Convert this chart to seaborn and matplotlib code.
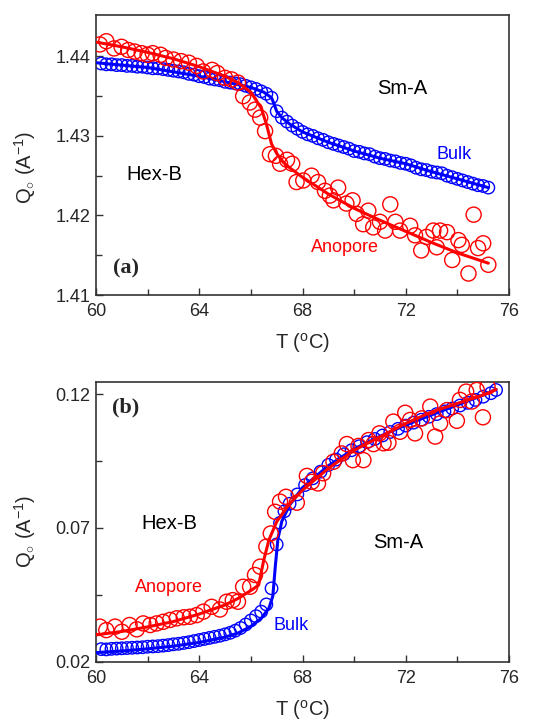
import matplotlib
matplotlib.use("Agg")
import matplotlib.pyplot as plt
import seaborn as sns
from matplotlib.ticker import MultipleLocator, FixedLocator, FormatStrFormatter

# ---------------- data: panel (a) ----------------
bulk_a_T = [60.2, 60.4, 60.6, 60.8, 61.0, 61.2, 61.4, 61.6, 61.8, 62.0,
            62.2, 62.4, 62.6, 62.8, 63.0, 63.2, 63.4, 63.6, 63.8, 64.0,
            64.2, 64.4, 64.6, 64.8, 65.0, 65.2, 65.4, 65.6, 65.8, 66.0,
            66.2, 66.4, 66.6, 66.8, 67.0, 67.2, 67.4, 67.6, 67.8, 68.0,
            68.2, 68.4, 68.6, 68.8, 69.0, 69.2, 69.4, 69.6, 69.8, 70.0,
            70.2, 70.4, 70.6, 70.8, 71.0, 71.2, 71.4, 71.6, 71.8, 72.0,
            72.2, 72.4, 72.6, 72.8, 73.0, 73.2, 73.4, 73.6, 73.8, 74.0,
            74.2, 74.4, 74.6, 74.8, 75.0, 75.2]
bulk_a_Q = [1.4391, 1.4390, 1.4390, 1.4389, 1.4389, 1.4388, 1.4388, 1.4387, 1.4387, 1.4386,
            1.4385, 1.4385, 1.4384, 1.4383, 1.4382, 1.4381, 1.4380, 1.4378, 1.4377, 1.4375,
            1.4374, 1.4372, 1.4371, 1.4370, 1.4368, 1.4367, 1.4366, 1.4365, 1.4363, 1.4361,
            1.4359, 1.4356, 1.4353, 1.4348, 1.4331, 1.4323, 1.4318, 1.4313, 1.4309, 1.4305,
            1.4302, 1.4300, 1.4297, 1.4295, 1.4292, 1.4290, 1.4288, 1.4286, 1.4284, 1.4281,
            1.4280, 1.4278, 1.4277, 1.4274, 1.4272, 1.4271, 1.4269, 1.4268, 1.4266, 1.4265,
            1.4263, 1.4260, 1.4258, 1.4257, 1.4255, 1.4254, 1.4253, 1.4250, 1.4248, 1.4246,
            1.4244, 1.4242, 1.4240, 1.4238, 1.4237, 1.4235]
bulk_a_fit_T = [60.0, 62.0, 64.0, 65.0, 66.0, 66.5, 66.8, 66.9, 67.0, 67.2, 67.5, 68.0,
                69.0, 70.0, 71.0, 72.0, 73.0, 74.0, 75.2]
bulk_a_fit_Q = [1.4392, 1.4386, 1.4375, 1.4368, 1.4361, 1.4355, 1.4348, 1.4340, 1.4331,
                1.4323, 1.4315, 1.4305, 1.4292, 1.4281, 1.4272, 1.4265, 1.4255, 1.4246, 1.4235]

anop_a_T = [60.15, 60.4, 60.7, 60.99, 61.25, 61.5, 61.77, 62.0, 62.2, 62.5,
            62.7, 63.0, 63.3, 63.6, 63.9, 64.15, 64.5, 64.7, 65.0, 65.25,
            65.5, 65.7, 65.96, 66.16, 66.36, 66.55, 66.74, 66.97, 67.13, 67.4,
            67.6, 67.77, 68.03, 68.35, 68.6, 68.87, 69.06, 69.2, 69.38, 69.7,
            69.94, 70.1, 70.35, 70.55, 70.74, 71.0, 71.2, 71.4, 71.6, 71.78,
            72.17, 72.36, 72.6, 72.8, 73.07, 73.2, 73.33, 73.6, 73.8, 74.04,
            74.17, 74.43, 74.63, 74.8, 75.0, 75.2]
anop_a_Q = [1.4415, 1.4419, 1.4410, 1.4412, 1.4408, 1.4406, 1.4404, 1.4402, 1.4404, 1.4402,
            1.4398, 1.4396, 1.4394, 1.4392, 1.4388, 1.4381, 1.4383, 1.4379, 1.4373, 1.4371,
            1.4367, 1.4350, 1.4342, 1.4333, 1.4323, 1.4306, 1.4277, 1.4275, 1.4265, 1.4270,
            1.4265, 1.4242, 1.4244, 1.4250, 1.4242, 1.4231, 1.4225, 1.4219, 1.4235, 1.4215,
            1.4219, 1.4202, 1.4189, 1.4206, 1.4185, 1.4192, 1.4181, 1.4214, 1.4192, 1.4181,
            1.4187, 1.4175, 1.4156, 1.4173, 1.4181, 1.4160, 1.4181, 1.4179, 1.4144, 1.4169,
            1.4163, 1.4127, 1.4201, 1.4159, 1.4165, 1.4138]
anop_a_fit_T = [60.0, 61.0, 62.0, 63.0, 64.0, 65.0, 65.5, 66.0, 66.2, 66.4, 66.6, 66.8,
                67.0, 67.25, 67.5, 68.0, 69.0, 70.0, 71.0, 72.0, 73.0, 74.0, 75.2]
anop_a_fit_Q = [1.4418, 1.4412, 1.4405, 1.4397, 1.4387, 1.4375, 1.4367, 1.4355, 1.4345,
                1.4335, 1.4315, 1.4290, 1.4278, 1.4267, 1.4260, 1.4248, 1.4227, 1.4209,
                1.4194, 1.4180, 1.4166, 1.4153, 1.4140]

# ---------------- data: panel (b) ----------------
bulk_b_T = [60.2, 60.4, 60.6, 60.8, 61.0, 61.2, 61.4, 61.6, 61.8, 62.0,
            62.2, 62.4, 62.6, 62.8, 63.0, 63.2, 63.4, 63.6, 63.8, 64.0,
            64.2, 64.4, 64.6, 64.8, 65.0, 65.2, 65.4, 65.6, 65.8, 66.0,
            66.2, 66.4, 66.6, 66.8, 67.0, 67.13, 67.3, 67.5, 67.8, 68.1,
            68.4, 68.7, 69.0, 69.3, 69.6, 69.9, 70.2, 70.5, 70.8, 71.1,
            71.4, 71.7, 72.0, 72.3, 72.6, 72.9, 73.2, 73.5, 73.8, 74.1,
            74.4, 74.7, 75.0, 75.3, 75.5]
bulk_b_Q = [0.0247, 0.0246, 0.0248, 0.0249, 0.0250, 0.0251, 0.0252, 0.0253, 0.0254, 0.0256,
            0.0257, 0.0258, 0.0260, 0.0262, 0.0265, 0.0267, 0.0270, 0.0273, 0.0277, 0.0281,
            0.0285, 0.0289, 0.0293, 0.0297, 0.0302, 0.0308, 0.0316, 0.0326, 0.0339, 0.0354,
            0.0370, 0.0387, 0.0414, 0.0474, 0.0638, 0.0719, 0.0762, 0.0790, 0.0825, 0.0860,
            0.0885, 0.0910, 0.0935, 0.0955, 0.0975, 0.0990, 0.1005, 0.1020, 0.1032, 0.1045,
            0.1058, 0.1070, 0.1082, 0.1093, 0.1104, 0.1115, 0.1125, 0.1135, 0.1146, 0.1157,
            0.1167, 0.1178, 0.1190, 0.1203, 0.1215]
bulk_b_fit_T = [60.0, 61.0, 62.0, 63.0, 64.0, 65.0, 65.5, 66.0, 66.4, 66.7, 66.85, 66.95,
                67.05, 67.2, 67.5, 68.0, 69.0, 70.0, 71.0, 72.0, 73.0, 74.0, 75.0, 75.5]
bulk_b_fit_Q = [0.0234, 0.0240, 0.0248, 0.0258, 0.0272, 0.0292, 0.0307, 0.0332, 0.0362,
                0.0400, 0.0445, 0.0560, 0.0660, 0.0725, 0.0785, 0.0850, 0.0932, 0.0995,
                0.1042, 0.1084, 0.1122, 0.1159, 0.1196, 0.1217]

anop_b_T = [60.15, 60.4, 60.74, 61.0, 61.3, 61.58, 61.83, 62.1, 62.35, 62.6,
            62.87, 63.13, 63.4, 63.64, 63.9, 64.16, 64.48, 64.8, 65.06, 65.3,
            65.5, 65.7, 65.97, 66.16, 66.36, 66.6, 66.77, 66.94, 67.13, 67.36,
            67.78, 68.17, 68.36, 68.6, 68.8, 69.2, 69.52, 69.72, 69.95, 70.17,
            70.36, 70.56, 70.75, 70.98, 71.14, 71.33, 71.52, 71.78, 71.98, 72.17,
            72.36, 72.62, 72.95, 73.14, 73.33, 73.6, 73.98, 74.1, 74.34, 74.56,
            74.75, 74.99, 75.17]
anop_b_Q = [0.0331, 0.0318, 0.0331, 0.0312, 0.0337, 0.0321, 0.0343, 0.0337, 0.0343, 0.0349,
            0.0356, 0.0362, 0.0366, 0.0368, 0.0374, 0.0387, 0.0405, 0.0395, 0.0424, 0.0430,
            0.0424, 0.0480, 0.0480, 0.0524, 0.0555, 0.0630, 0.0679, 0.0760, 0.0798, 0.0816,
            0.0794, 0.0894, 0.0872, 0.0866, 0.0904, 0.0947, 0.0978, 0.1013, 0.0953, 0.1006,
            0.0953, 0.1028, 0.1013, 0.1053, 0.1016, 0.1018, 0.1097, 0.1059, 0.1130, 0.1103,
            0.1053, 0.1109, 0.1153, 0.1041, 0.1090, 0.1140, 0.1100, 0.1178, 0.1209, 0.1172,
            0.1215, 0.1113, 0.1227]
anop_b_fit_T = [60.0, 61.0, 62.0, 63.0, 64.0, 65.0, 65.5, 66.0, 66.3, 66.5, 66.7, 67.0,
                67.5, 68.0, 69.0, 70.0, 71.0, 72.0, 73.0, 74.0, 75.0, 75.5]
anop_b_fit_Q = [0.0300, 0.0313, 0.0330, 0.0350, 0.0378, 0.0412, 0.0436, 0.0466, 0.0486,
                0.0580, 0.0655, 0.0723, 0.0790, 0.0841, 0.0922, 0.0990, 0.1040, 0.1090,
                0.1133, 0.1165, 0.1196, 0.1217]

# tick values
x_major = [60, 64, 68, 72, 76]
x_minor = [62, 66, 70, 74]
ya_major = [1.41, 1.42, 1.43, 1.44]
ya_minor = [1.415, 1.425, 1.435]
yb_major = [0.02, 0.07, 0.12]
yb_minor = [0.045, 0.095]

# ---------------- style ----------------
sns.set_style("ticks")
plt.rcParams['font.family'] = ['Liberation Sans', 'DejaVu Sans']
plt.rcParams['mathtext.fontset'] = 'custom'
plt.rcParams['mathtext.rm'] = 'Liberation Sans'
plt.rcParams['mathtext.it'] = 'Liberation Sans:italic'

RED = '#ff0000'
BLUE = '#0000ff'
SPINE = '#333333'

fig = plt.figure(figsize=(5.6, 7.26), dpi=100)
W, H = 560.0, 726.0
ax1 = fig.add_axes([96 / W, 1 - 295 / H, 413 / W, 280 / H])
ax2 = fig.add_axes([96 / W, 1 - 661.7 / H, 413 / W, 280 / H])


def draw(ax, bT, bQ, bfT, bfQ, aT, aQ, afT, afQ):
    sns.scatterplot(x=bT, y=bQ, ax=ax, marker='o', s=80, facecolors='none',
                    edgecolors=BLUE, linewidths=1.0, zorder=2)
    sns.lineplot(x=bfT, y=bfQ, ax=ax, color=BLUE, lw=2.2, estimator=None, zorder=3)
    sns.scatterplot(x=aT, y=aQ, ax=ax, marker='o', s=118, facecolors='none',
                    edgecolors=RED, linewidths=1.0, zorder=4)
    sns.lineplot(x=afT, y=afQ, ax=ax, color=RED, lw=2.2, estimator=None, zorder=5)


draw(ax1, bulk_a_T, bulk_a_Q, bulk_a_fit_T, bulk_a_fit_Q,
     anop_a_T, anop_a_Q, anop_a_fit_T, anop_a_fit_Q)
draw(ax2, bulk_b_T, bulk_b_Q, bulk_b_fit_T, bulk_b_fit_Q,
     anop_b_T, anop_b_Q, anop_b_fit_T, anop_b_fit_Q)

for ax in (ax1, ax2):
    ax.set_xlim(60, 76)
    ax.xaxis.set_major_locator(FixedLocator(x_major))
    ax.xaxis.set_minor_locator(FixedLocator(x_minor))
    ax.xaxis.set_major_formatter(FormatStrFormatter('%d'))
    ax.tick_params(which='both', direction='in', top=False, right=False,
                   color=SPINE, width=1.0, labelsize=13)
    ax.tick_params(axis='x', pad=6)
    ax.tick_params(axis='y', pad=4)
    ax.tick_params(which='major', length=5)
    ax.tick_params(which='minor', length=4)
    for sp in ax.spines.values():
        sp.set_visible(True)
        sp.set_color(SPINE)
        sp.set_linewidth(1.2)
    ax.set_xlabel(r'T ($^{\mathrm{o}}$C)', fontsize=14.5, labelpad=8)
    ax.set_ylabel(r'Q$_{\circ}$ (A$^{-1}$)', fontsize=14.5)

ax1.set_ylim(1.41, 1.4452)
ax1.yaxis.set_major_locator(FixedLocator(ya_major))
ax1.yaxis.set_minor_locator(FixedLocator(ya_minor))
ax1.yaxis.set_major_formatter(FormatStrFormatter('%.2f'))
ax1.yaxis.set_label_coords(-0.14, 0.455)

ax2.set_ylim(0.02, 0.1246)
ax2.yaxis.set_major_locator(FixedLocator(yb_major))
ax2.yaxis.set_minor_locator(FixedLocator(yb_minor))
ax2.yaxis.set_major_formatter(FormatStrFormatter('%.2f'))
ax2.yaxis.set_label_coords(-0.14, 0.465)

# annotations panel (a)
ax1.text(71.86, 1.4360, 'Sm-A', fontsize=14.5, ha='center', va='center', color='black')
ax1.text(62.25, 1.4252, 'Hex-B', fontsize=14.5, ha='center', va='center', color='black')
ax1.text(73.87, 1.4277, 'Bulk', fontsize=13, ha='center', va='center', color=BLUE)
ax1.text(69.65, 1.4160, 'Anopore', fontsize=13, ha='center', va='center', color=RED)
ax1.text(61.16, 1.4133, '(a)', fontsize=16, ha='center', va='center',
         family=['Liberation Serif', 'DejaVu Serif'], fontweight='bold')

# annotations panel (b)
ax2.text(71.7, 0.0647, 'Sm-A', fontsize=14.5, ha='center', va='center', color='black')
ax2.text(62.83, 0.0718, 'Hex-B', fontsize=14.5, ha='center', va='center', color='black')
ax2.text(67.55, 0.0336, 'Bulk', fontsize=13, ha='center', va='center', color=BLUE)
ax2.text(62.83, 0.0478, 'Anopore', fontsize=13, ha='center', va='center', color=RED)
ax2.text(61.16, 0.1151, '(b)', fontsize=16, ha='center', va='center',
         family=['Liberation Serif', 'DejaVu Serif'], fontweight='bold')

fig.savefig('out.png', dpi=100)
